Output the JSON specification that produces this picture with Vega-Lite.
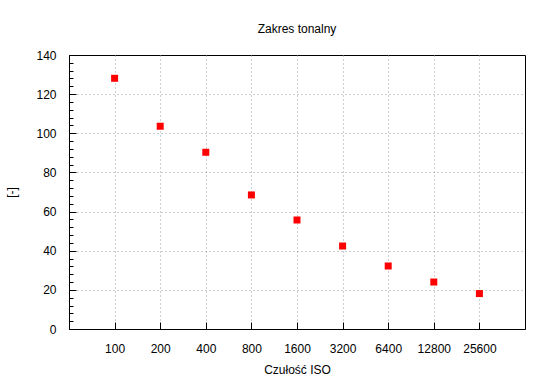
{
  "$schema": "https://vega.github.io/schema/vega-lite/v6.json",
  "autosize": "none",
  "width": 456,
  "height": 274,
  "padding": {"left": 69, "top": 55, "right": 25, "bottom": 60},
  "background": "white",
  "config": {
    "font": "Liberation Sans",
    "view": {"stroke": "black", "strokeWidth": 1},
    "axis": {
      "labelFont": "Liberation Sans",
      "labelFontSize": 12,
      "labelColor": "black",
      "titleFont": "Liberation Sans",
      "titleFontSize": 12,
      "titleFontWeight": "normal",
      "titleColor": "black",
      "domainColor": "black",
      "tickColor": "black",
      "gridColor": "#a0a0a0",
      "gridDash": [1, 3],
      "gridWidth": 1
    }
  },
  "title": {
    "text": "Zakres tonalny",
    "font": "Liberation Sans",
    "fontSize": 12,
    "fontWeight": "normal",
    "color": "black",
    "offset": 13
  },
  "data": {
    "values": [
      {"iso": "100", "value": 128.1},
      {"iso": "200", "value": 103.6},
      {"iso": "400", "value": 90.3},
      {"iso": "800", "value": 68.5},
      {"iso": "1600", "value": 55.7},
      {"iso": "3200", "value": 42.4},
      {"iso": "6400", "value": 32.2},
      {"iso": "12800", "value": 24.0},
      {"iso": "25600", "value": 18.1}
    ]
  },
  "mark": {"type": "square", "color": "#ff0000", "opacity": 1, "size": 49},
  "encoding": {
    "x": {
      "field": "iso",
      "type": "ordinal",
      "sort": null,
      "scale": {"type": "point", "padding": 1},
      "axis": {
        "title": "Czułość ISO",
        "labelAngle": 0,
        "grid": true,
        "tickSize": -7,
        "labelPadding": 21,
        "titlePadding": 10
      }
    },
    "y": {
      "field": "value",
      "type": "quantitative",
      "scale": {"domain": [0, 140], "nice": false, "zero": true},
      "axis": {
        "title": "[-]",
        "values": [0,4,8,12,16,20,24,28,32,36,40,44,48,52,56,60,64,68,72,76,80,84,88,92,96,100,104,108,112,116,120,124,128,132,136,140],
        "labelExpr": "datum.value % 20 === 0 ? datum.label : ''",
        "grid": true,
        "gridOpacity": {"condition": {"test": "datum.value % 20 === 0 && datum.value > 0 && datum.value < 140", "value": 1}, "value": 0},
        "tickSize": {"condition": {"test": "datum.value % 20 === 0", "value": -7}, "value": -4},
        "labelPadding": 20,
        "titlePadding": 17
      }
    }
  }
}
